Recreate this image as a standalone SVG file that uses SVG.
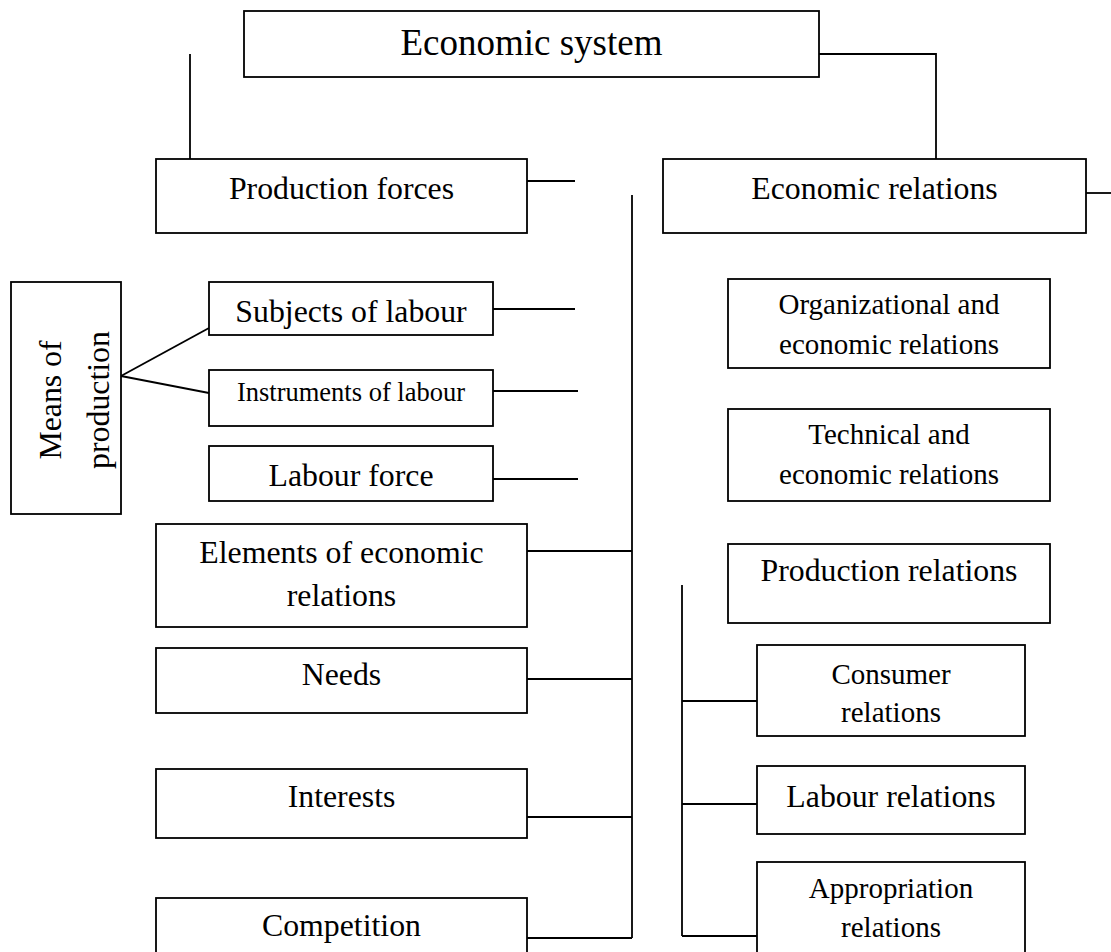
<svg xmlns="http://www.w3.org/2000/svg" width="1111" height="952" viewBox="0 0 1111 952">
<style>
rect{fill:#fff;stroke:#000;stroke-width:1.8}
line,polyline{stroke:#000;stroke-width:1.8;fill:none}
text{font-family:"Liberation Serif","Times New Roman",serif;fill:#000;text-anchor:middle}
.l{font-size:31.8px}
.m{font-size:29px}
.s{font-size:26.5px}
.xl{font-size:37px}
</style>
<rect x="0" y="0" width="1111" height="952" style="stroke:none"/>
<g id="connectors">
<line x1="190" y1="54" x2="190" y2="159"/>
<polyline points="819,54 936,54 936,159"/>
<line x1="527" y1="181" x2="575" y2="181"/>
<line x1="1086" y1="193" x2="1111" y2="193"/>
<line x1="632" y1="195" x2="632" y2="938"/>
<line x1="493" y1="309" x2="575" y2="309"/>
<line x1="493" y1="391" x2="578" y2="391"/>
<line x1="493" y1="479" x2="578" y2="479"/>
<line x1="121" y1="376" x2="209" y2="328"/>
<line x1="121" y1="376" x2="209" y2="393"/>
<line x1="527" y1="551" x2="632" y2="551"/>
<line x1="527" y1="679" x2="632" y2="679"/>
<line x1="527" y1="817" x2="632" y2="817"/>
<line x1="527" y1="938" x2="632" y2="938"/>
<line x1="682" y1="585" x2="682" y2="936"/>
<line x1="682" y1="701" x2="757" y2="701"/>
<line x1="682" y1="804" x2="757" y2="804"/>
<line x1="682" y1="936" x2="757" y2="936"/>
</g>
<g id="economic-system"><rect x="244" y="11" width="575" height="66"/><text class="xl" x="531.5" y="55">Economic system</text></g>
<g id="production-forces"><rect x="156" y="159" width="371" height="74"/><text class="l" x="341.5" y="199">Production forces</text></g>
<g id="economic-relations"><rect x="663" y="159" width="423" height="74"/><text class="l" x="874.5" y="199">Economic relations</text></g>
<g id="means-of-production"><rect x="11" y="282" width="110" height="232"/><text class="l" transform="translate(61,400) rotate(-90)">Means of</text><text class="l" transform="translate(109,400) rotate(-90)">production</text></g>
<g id="subjects-of-labour"><rect x="209" y="282" width="284" height="53"/><text class="l" x="351" y="322">Subjects of labour</text></g>
<g id="instruments-of-labour"><rect x="209" y="370" width="284" height="56"/><text class="s" x="351" y="401">Instruments of labour</text></g>
<g id="labour-force"><rect x="209" y="446" width="284" height="55"/><text class="l" x="351" y="486">Labour force</text></g>
<g id="elements"><rect x="156" y="524" width="371" height="103"/><text class="l" x="341.5" y="563">Elements of economic</text><text class="l" x="341.5" y="606">relations</text></g>
<g id="needs"><rect x="156" y="648" width="371" height="65"/><text class="l" x="341.5" y="685">Needs</text></g>
<g id="interests"><rect x="156" y="769" width="371" height="69"/><text class="l" x="341.5" y="807">Interests</text></g>
<g id="competition"><rect x="156" y="898" width="371" height="70"/><text class="l" x="341.5" y="936">Competition</text></g>
<g id="organizational"><rect x="728" y="279" width="322" height="89"/><text class="m" x="889" y="314">Organizational and</text><text class="m" x="889" y="354">economic relations</text></g>
<g id="technical"><rect x="728" y="409" width="322" height="92"/><text class="m" x="889" y="444">Technical and</text><text class="m" x="889" y="484">economic relations</text></g>
<g id="production-relations"><rect x="728" y="544" width="322" height="79"/><text class="l" x="889" y="581">Production relations</text></g>
<g id="consumer-relations"><rect x="757" y="645" width="268" height="91"/><text class="m" x="891" y="684">Consumer</text><text class="m" x="891" y="722">relations</text></g>
<g id="labour-relations"><rect x="757" y="766" width="268" height="68"/><text class="l" x="891" y="807">Labour relations</text></g>
<g id="appropriation-relations"><rect x="757" y="862" width="268" height="110"/><text class="m" x="891" y="898">Appropriation</text><text class="m" x="891" y="937">relations</text></g>
</svg>
